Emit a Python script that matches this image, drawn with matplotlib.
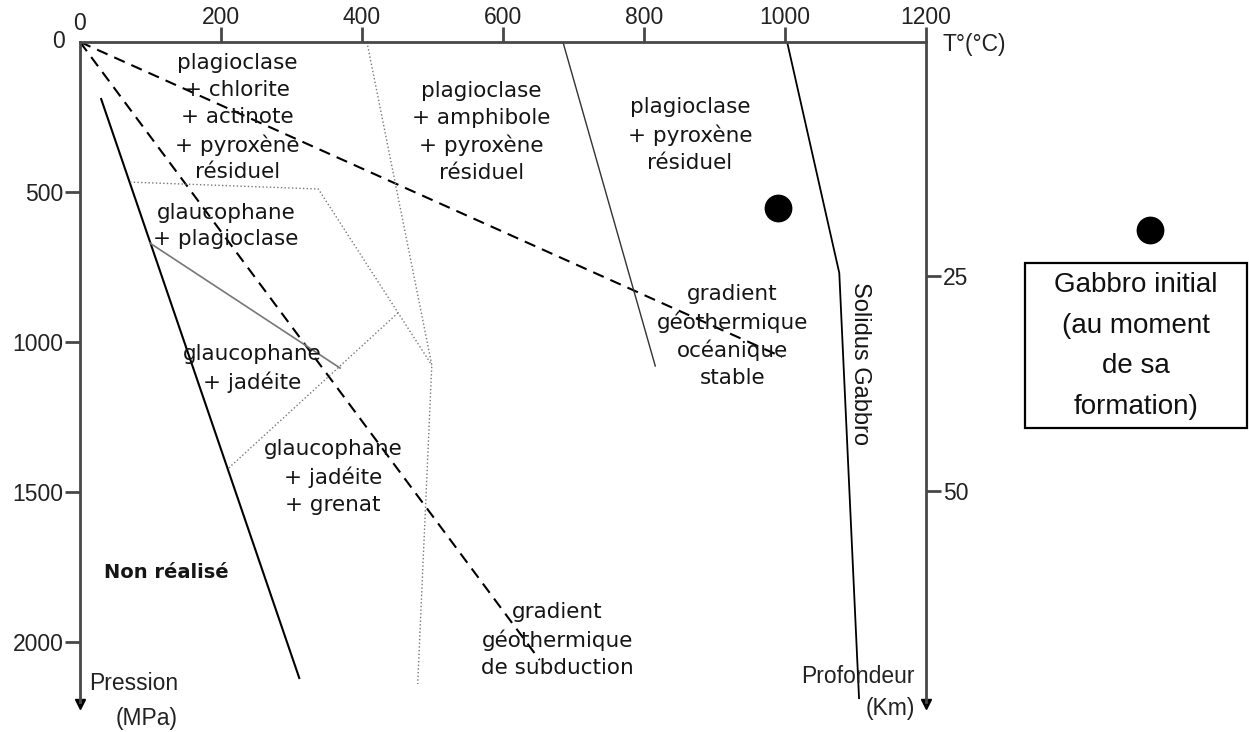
import numpy as np
import matplotlib
matplotlib.use('agg')
import matplotlib.pyplot as plt
from matplotlib.lines import Line2D
from matplotlib.patches import Rectangle

# axes ticks
temp_ticks = [200, 400, 600, 800, 1000, 1200]
pres_ticks = [500, 1000, 1500, 2000]
depth_ticks_P = [780, 1497]          # position (MPa) of the depth ticks
depth_labels = ['25', '50']

grad_ocean_T = [0, 996]
grad_ocean_P = [0, 1050]
grad_subd_T = [0, 652]
grad_subd_P = [0, 2060]
limit_nr_T = [30, 311]
limit_nr_P = [190, 2120]
glauco_plagio_T = [99, 369]
glauco_plagio_P = [670, 1087]
dot_poly_T = [71, 338, 499]
dot_poly_P = [467, 490, 1077]
dot_vert_T = [407, 499, 479]
dot_vert_P = [0, 1077, 2140]
dot_jad_T = [211, 451]
dot_jad_P = [1420, 903]
amphi_T = [685, 816]
amphi_P = [0, 1080]
solidus_T = [1003, 1077, 1105]
solidus_P = [0, 770, 2187]
gabbro_T = [990]
gabbro_P = [553]

# region labels
labels = ['plagioclase\n+ chlorite\n+ actinote\n+ pyroxène\nrésiduel',
          'glaucophane\n+ plagioclase',
          'plagioclase\n+ amphibole\n+ pyroxène\nrésiduel',
          'plagioclase\n+ pyroxène\nrésiduel',
          'glaucophane\n+ jadéite',
          'glaucophane\n+ jadéite\n+ grenat',
          'gradient\ngéothermique\nde subduction',
          'gradient\ngéothermique\nocéanique\nstable']
labels_T = [223, 207, 569, 865, 244, 359, 677, 925]
labels_P = [253, 613, 300, 310, 1087, 1450, 1993, 980]

W, H = 1249, 732
fig = plt.figure(figsize=(W/100, H/100), dpi=100)
ax = fig.add_axes([80/W, 1-702/H, 846/W, 660/H])
ax.set_xlim(0, 1200)
ax.set_ylim(2200, 0)

spc = '#484848'
for s in ['top', 'left']:
    ax.spines[s].set_color(spc)
    ax.spines[s].set_linewidth(2)
ax.spines['bottom'].set_visible(False)
ax.spines['right'].set_visible(False)

ax.xaxis.tick_top()
ax.set_xticks(temp_ticks)
ax.set_yticks(pres_ticks)
ax.tick_params(axis='both', direction='out', length=11, width=2, color=spc,
               labelsize=16.5, labelcolor='#222')
ax.tick_params(axis='x', pad=-2)
ax.tick_params(axis='y', pad=1)
for lab in ax.get_xticklabels() + ax.get_yticklabels():
    lab.set_family('Liberation Sans')

ax2 = ax.twinx()
ax2.set_ylim(2200, 0)
for s in ['top', 'left', 'bottom']:
    ax2.spines[s].set_visible(False)
ax2.spines['right'].set_color(spc)
ax2.spines['right'].set_linewidth(2)
ax2.set_yticks(depth_ticks_P)
ax2.set_yticklabels(depth_labels, family='Liberation Sans')
ax2.tick_params(axis='y', direction='out', length=11, width=2, color=spc,
                labelsize=16.5, pad=1, labelcolor='#222')

# arrow heads at the bottom of both vertical axes
ax.plot([0, 1200], [2206, 2206], ls='none', marker='v', ms=7, color='black', clip_on=False)

# lines
dash = (0, (5.5, 3.5))
ax.plot(grad_ocean_T, grad_ocean_P, color='black', lw=1.5, ls=dash)
ax.plot(grad_subd_T, grad_subd_P, color='black', lw=1.5, ls=dash)
ax.plot(limit_nr_T, limit_nr_P, color='black', lw=1.5)
ax.plot(glauco_plagio_T, glauco_plagio_P, color='#777', lw=1.2)
ax.plot(dot_poly_T, dot_poly_P, color='#777', lw=1, ls=':')
ax.plot(dot_vert_T, dot_vert_P, color='#777', lw=1, ls=':')
ax.plot(dot_jad_T, dot_jad_P, color='#777', lw=1, ls=':')
ax.plot(amphi_T, amphi_P, color='#333', lw=1)
ax.plot(solidus_T, solidus_P, color='black', lw=1.3)
ax.plot(gabbro_T, gabbro_P, 'o', color='black', ms=19)

tcol = '#151515'
for txt, t, p in zip(labels, labels_T, labels_P):
    ax.text(t, p, txt, ha='center', va='center', multialignment='center',
            fontsize=15.5, family='DejaVu Sans', linespacing=1.42, color=tcol)
ax.text(122, 1767, 'Non réalisé', ha='center', va='center', fontsize=14,
        fontweight='bold', family='DejaVu Sans', color=tcol)
ax.text(1106, 1073, 'Solidus Gabbro', ha='center', va='center', rotation=270,
        fontsize=17, family='Liberation Sans', color=tcol)

# axis names and the "0" corners
ax.text(0, -63, '0', ha='center', va='center', fontsize=16.5, family='Liberation Sans',
        color='#222', clip_on=False)
ax.text(-30, 0, '0', ha='center', va='center', fontsize=16.5, family='Liberation Sans',
        color='#222', clip_on=False)
ax.text(1223, 10, 'T°(°C)', ha='left', va='center', fontsize=16.5,
        family='Liberation Sans', color='#222', clip_on=False)
ax.text(139, 2196, 'Pression\n(MPa)', ha='right', va='center', multialignment='right',
        fontsize=16.5, family='Liberation Sans', linespacing=1.65, color='#222', clip_on=False)
ax.text(1184, 2168, 'Profondeur\n(Km)', ha='right', va='center', multialignment='right',
        fontsize=16.5, family='Liberation Sans', linespacing=1.5, color='#222', clip_on=False)

# legend on the right
fig.add_artist(Line2D([1150/W], [1-230/H], marker='o', ms=19, color='black',
                      transform=fig.transFigure))
fig.add_artist(Rectangle((1025/W, 1-428/H), 222/W, 165/H, fill=False,
                         edgecolor='black', lw=1.6, transform=fig.transFigure))
fig.text(1136/W, 1-346/H, 'Gabbro initial\n(au moment\nde sa\nformation)',
         ha='center', va='center', multialignment='center', fontsize=20,
         family='Liberation Sans', linespacing=1.72, color='#111')

fig.savefig('out.png', dpi=100)
